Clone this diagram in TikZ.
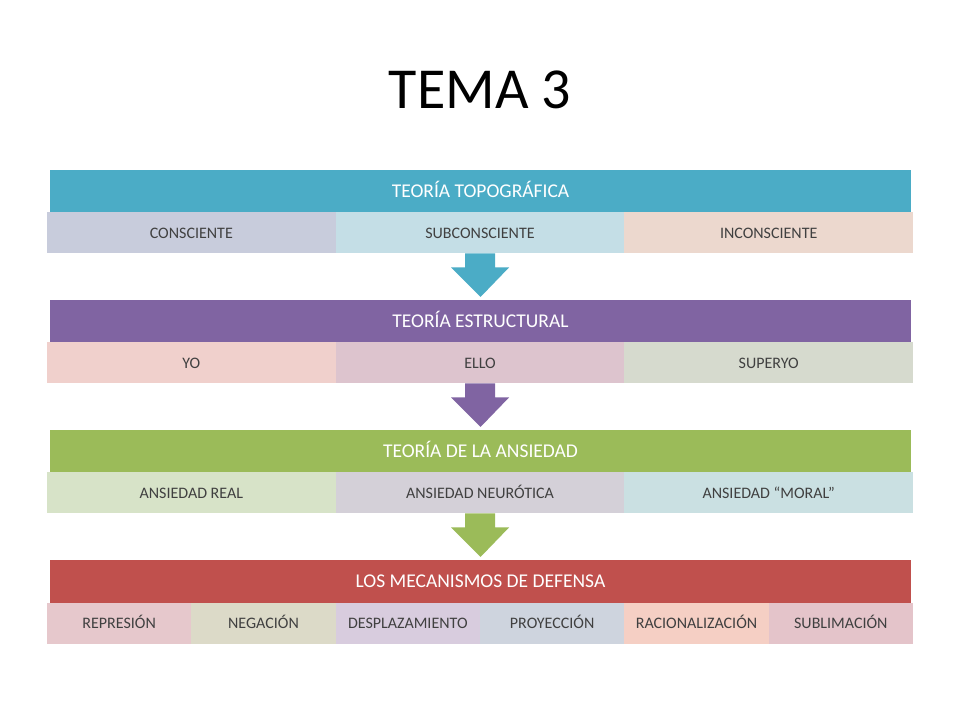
\documentclass[tikz,border=0pt]{standalone}
\usepackage{fontspec}
\setmainfont{Carlito}
\usetikzlibrary{positioning}
\usetikzlibrary{calc}

\definecolor{tblue}{RGB}{75,172,198}
\definecolor{tpurple}{RGB}{128,100,162}
\definecolor{tgreen}{RGB}{155,187,89}
\definecolor{tred}{RGB}{192,80,77}

\tikzset{head/.style={minimum width=861pt, minimum height=43pt, inner sep=0pt, outer sep=0pt, text height=12.6pt, text depth=0pt, text=white, font=\fontsize{19.5}{22}\selectfont}}
\tikzset{cell/.style={minimum width=288.67pt, minimum height=41pt, inner sep=0pt, outer sep=0pt, text height=10.3pt, text depth=0pt, text=black!75, font=\fontsize{16}{18}\selectfont}}
\tikzset{smallcell/.style={cell, minimum width=144.33pt}}

\newcommand{\flecha}[3]{\fill[#1] ($(#2.south)+(-15,0)$) -- ($(#2.south)+(15,0)$)
 -- ($(#2.south)+(15,-14)$) -- ($(#2.south)+(29,-14)$) -- ($(#3.north)+(0,3)$)
 -- ($(#2.south)+(-29,-14)$) -- ($(#2.south)+(-15,-14)$) -- cycle;}

\begin{document}
\begin{tikzpicture}[x=1pt, y=1pt]
\useasboundingbox[fill=white] (0,0) rectangle (960,720);

\node (title) at (480,630) {\fontsize{58}{62}\selectfont TEMA 3};

% teoria topografica
\node[head, fill=tblue] (h1) at (480.5,528.5) {TEORÍA TOPOGRÁFICA};
\node[cell, fill={rgb,255:red,200;green,204;blue,220}, anchor=west] (c11) at (47,487) {CONSCIENTE};
\node[cell, fill={rgb,255:red,196;green,222;blue,230}, right=0pt of c11] (c12) {SUBCONSCIENTE};
\node[cell, fill={rgb,255:red,236;green,216;blue,206}, right=0pt of c12] (c13) {INCONSCIENTE};

% teoria estructural
\node[head, fill=tpurple] (h2) at (480.5,398.5) {TEORÍA ESTRUCTURAL};
\node[cell, fill={rgb,255:red,240;green,208;blue,204}, anchor=west] (c21) at (47,357) {YO};
\node[cell, fill={rgb,255:red,221;green,196;blue,206}, right=0pt of c21] (c22) {ELLO};
\node[cell, fill={rgb,255:red,214;green,218;blue,206}, right=0pt of c22] (c23) {SUPERYO};

% teoria de la ansiedad
\node[head, fill=tgreen] (h3) at (480.5,268.5) {TEORÍA DE LA ANSIEDAD};
\node[cell, fill={rgb,255:red,215;green,227;blue,200}, anchor=west] (c31) at (47,227) {ANSIEDAD REAL};
\node[cell, fill={rgb,255:red,212;green,208;blue,216}, right=0pt of c31] (c32) {ANSIEDAD NEURÓTICA};
\node[cell, fill={rgb,255:red,202;green,224;blue,226}, right=0pt of c32] (c33) {ANSIEDAD “MORAL”};

% mecanismos de defensa
\node[head, fill=tred] (h4) at (480.5,138.5) {LOS MECANISMOS DE DEFENSA};
\node[smallcell, fill={rgb,255:red,230;green,200;blue,204}, anchor=west] (c41) at (47,97) {REPRESIÓN};
\node[smallcell, fill={rgb,255:red,220;green,218;blue,200}, right=0pt of c41] (c42) {NEGACIÓN};
\node[smallcell, fill={rgb,255:red,216;green,204;blue,222}, right=0pt of c42] (c43) {DESPLAZAMIENTO};
\node[smallcell, fill={rgb,255:red,206;green,212;blue,222}, right=0pt of c43] (c44) {PROYECCIÓN};
\node[smallcell, fill={rgb,255:red,245;green,207;blue,196}, right=0pt of c44] (c45) {RACIONALIZACIÓN};
\node[smallcell, fill={rgb,255:red,228;green,196;blue,202}, right=0pt of c45] (c46) {SUBLIMACIÓN};

\flecha{tblue}{c12}{h2}
\flecha{tpurple}{c22}{h3}
\flecha{tgreen}{c32}{h4}
\end{tikzpicture}
\end{document}
